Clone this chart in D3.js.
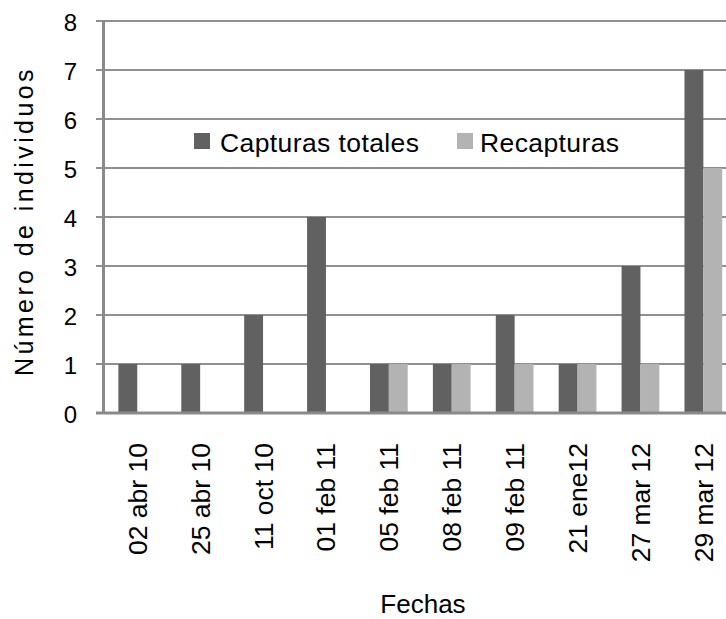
<!DOCTYPE html>
<html>
<head>
<meta charset="utf-8">
<script src="https://cdn.jsdelivr.net/npm/d3@7"></script>
<style>
  html, body { margin: 0; padding: 0; background: #fff; }
  svg { display: block; font-family: "Liberation Sans", Arial, sans-serif; }
</style>
</head>
<body>
<svg id="chart" width="726" height="619"></svg>
<script>
const categories = ["02 abr 10", "25 abr 10", "11 oct 10", "01 feb 11", "05 feb 11", "08 feb 11", "09 feb 11", "21 ene12", "27 mar 12", "29 mar 12"];
const capturas   = [1, 1, 2, 4, 1, 1, 2, 1, 3, 7];
const recapturas = [0, 0, 0, 0, 1, 1, 1, 1, 1, 5];
const seriesNames = ["Capturas totales", "Recapturas"];
const seriesColors = ["#616161", "#b3b3b3"];
const yTicks = [0, 1, 2, 3, 4, 5, 6, 7, 8];
const yTitle = "Número de individuos";
const xTitle = "Fechas";

const svg = d3.select("#chart");
const W = 726, H = 619;
const axisX = 103.5, baseY = 413;

const y = d3.scaleLinear().domain([0, 8]).range([baseY, 21]);
const x0 = d3.scaleBand().domain(categories).range([105.8, 734.8]).paddingInner(0.4).paddingOuter(0.2);
const x1 = d3.scaleBand().domain(seriesNames).range([0, x0.bandwidth()]);

// gridlines
svg.append("g").selectAll("line").data(yTicks.filter(d => d > 0)).join("line")
  .attr("x1", 96).attr("x2", W)
  .attr("y1", d => y(d)).attr("y2", d => y(d))
  .attr("stroke", "#909090").attr("stroke-width", 2);

// bars
const rows = categories.map((c, i) => ({ c, vals: [capturas[i], recapturas[i]] }));
const g = svg.append("g");
rows.forEach(r => {
  r.vals.forEach((v, j) => {
    if (v <= 0) return;
    g.append("rect")
      .attr("x", x0(r.c) + x1(seriesNames[j]))
      .attr("y", y(v))
      .attr("width", x1.bandwidth())
      .attr("height", y(0) - y(v))
      .attr("fill", seriesColors[j]);
  });
});

// axes lines
svg.append("line").attr("x1", axisX).attr("x2", axisX).attr("y1", y(8) - 1).attr("y2", baseY + 1)
  .attr("stroke", "#8a8a8a").attr("stroke-width", 3);
svg.append("line").attr("x1", 96).attr("x2", W).attr("y1", baseY).attr("y2", baseY)
  .attr("stroke", "#8a8a8a").attr("stroke-width", 3);

// y tick labels
svg.append("g").selectAll("text").data(yTicks).join("text")
  .attr("x", 77).attr("y", d => y(d) + 10)
  .attr("text-anchor", "end")
  .attr("font-size", 24).attr("fill", "#000")
  .text(d => d);

// x labels
svg.append("g").selectAll("text").data(categories).join("text")
  .attr("transform", d => `translate(${x0(d) + x0.bandwidth() / 2 + 9.5},443) rotate(-90)`)
  .attr("text-anchor", "end")
  .attr("font-size", 26.5).attr("fill", "#000")
  .text(d => d);

// y title
svg.append("text")
  .attr("transform", "translate(33,221) rotate(-90)")
  .attr("text-anchor", "middle")
  .attr("font-size", 25).attr("letter-spacing", 3.4).attr("fill", "#000")
  .text(yTitle);

// x title
svg.append("text")
  .attr("x", 423).attr("y", 613)
  .attr("text-anchor", "middle")
  .attr("font-size", 26).attr("fill", "#000")
  .text(xTitle);

// legend
const legendX = [194, 457];
const leg = svg.append("g");
seriesNames.forEach((n, i) => {
  leg.append("rect").attr("x", legendX[i]).attr("y", 133).attr("width", 16).attr("height", 16).attr("fill", seriesColors[i]);
  leg.append("text").attr("x", legendX[i] + (i === 0 ? 26 : 23)).attr("y", 152)
    .attr("font-size", 26.5).attr("letter-spacing", 0.4).attr("fill", "#000").text(n);
});
</script>
</body>
</html>
